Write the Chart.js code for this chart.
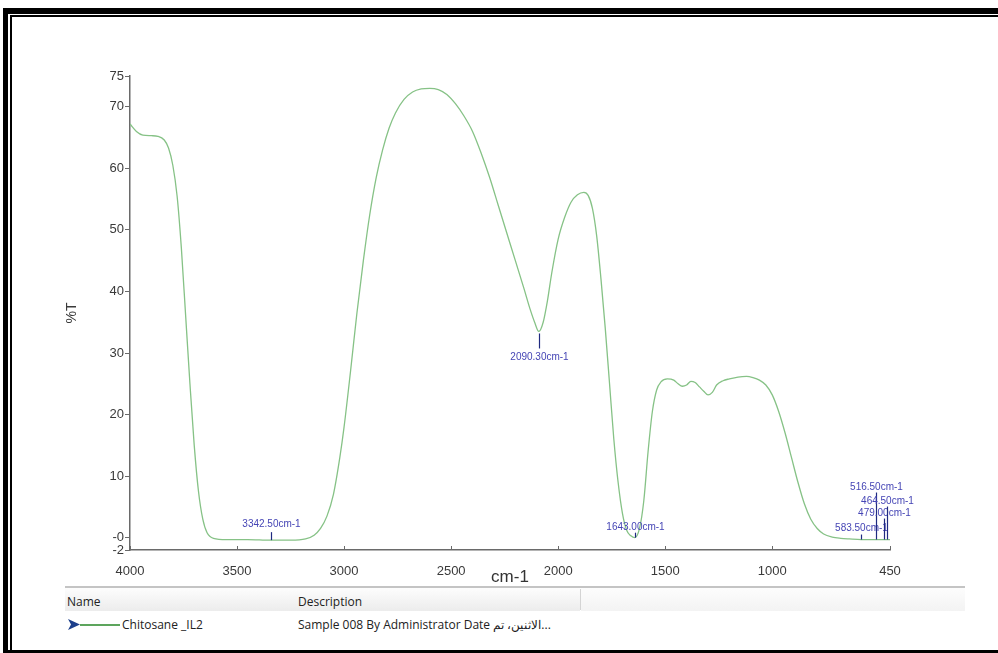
<!DOCTYPE html>
<html>
<head>
<meta charset="utf-8">
<script src="https://cdn.jsdelivr.net/npm/chart.js@4.4.0/dist/chart.umd.min.js"></script>
<style>
  html, body { margin: 0; padding: 0; background: #fff; }
  body { width: 998px; height: 653px; position: relative; overflow: hidden; font-family: Arial, "Liberation Sans", sans-serif; }
  #frameOuter { position: absolute; left: 3px; top: 8px; width: 1000px; height: 636px;
    border-top: 6px solid #000; border-left: 5px solid #000; border-bottom: 6px solid #000; }
  #frameInner { position: absolute; left: 10px; top: 15px; width: 1000px; height: 640px;
    border-top: 2px solid #000; border-left: 2px solid #000; }
  #chartBox { position: absolute; left: 0; top: 0; width: 998px; height: 600px; }
  .tbl { position: absolute; font-family: "Open Sans", "Noto Sans", sans-serif; font-size: 12px; color: #222; white-space: nowrap; }
  #topRule { position: absolute; left: 65px; top: 586px; width: 900px; height: 2px; background: #c4c4c4; }
  #hdrLeft { position: absolute; left: 65px; top: 588px; width: 515px; height: 23px; background: linear-gradient(#fdfdfd, #ececec); }
  #hdrRight { position: absolute; left: 581px; top: 588px; width: 384px; height: 23px; background: linear-gradient(#fdfdfd, #f3f3f3); }
  #hdrSep { position: absolute; left: 580px; top: 589px; width: 1px; height: 21px; background: #d4d4d4; }
  #legLine { position: absolute; left: 80px; top: 624px; width: 40px; height: 2px; background: #5da55d; }
</style>
</head>
<body>
<div id="frameOuter"></div>
<div id="frameInner"></div>
<div id="chartBox"><canvas id="irChart" width="998" height="600"></canvas></div>

<div id="topRule"></div>
<div id="hdrLeft"></div>
<div id="hdrRight"></div>
<div id="hdrSep"></div>
<div class="tbl" style="left:67px; top:593px;">Name</div>
<div class="tbl" style="left:298px; top:593px;">Description</div>
<svg style="position:absolute; left:68px; top:619px;" width="12" height="11" viewBox="0 0 12 11">
  <path d="M0 0 L12 5.5 L0 11 L3 5.5 Z" fill="#1c3f8c"/>
</svg>
<div id="legLine"></div>
<div class="tbl" style="left:122px; top:616px;">Chitosane _IL2</div>
<div class="tbl" style="left:298px; top:616px;">Sample 008 By Administrator Date الاثنين، تم...</div>

<script>
// FTIR spectrum - Chitosane _IL2

// wavenumber (cm-1) / %T
const wavenumbers = [
  4000, 3970, 3940, 3900, 3870, 3840, 3820, 3800, 3780, 3760, 3740, 3720, 3700, 3680, 3660, 3640, 3610,
  3550, 3450, 3342.5, 3250, 3180, 3140, 3110, 3080, 3050, 3020, 3000, 2970, 2940, 2910, 2880, 2850,
  2820, 2790, 2760, 2720, 2680, 2640, 2600, 2560, 2520, 2480, 2440, 2400, 2360, 2320, 2280, 2240,
  2200, 2160, 2130, 2110, 2090.3, 2070, 2050, 2030, 2000, 1970, 1940, 1910, 1880, 1860, 1840, 1820,
  1800, 1780, 1760, 1740, 1720, 1700, 1680, 1660, 1643, 1620, 1600, 1580, 1560, 1540, 1520, 1490,
  1460, 1440, 1420, 1400, 1380, 1360, 1340, 1320, 1300, 1280, 1260, 1230, 1200, 1160, 1120, 1090,
  1060, 1030, 1000, 970, 940, 910, 880, 850, 820, 790, 760, 720, 680, 640, 583.5, 516.5, 479, 464.5, 450
];
const transmittance = [
  67.2, 66.0, 65.4, 65.3, 65.2, 64.6, 63.3, 60.5, 55.5, 47, 36, 25, 15, 7.5, 3, 0.8, -0.1,
  -0.3, -0.3, -0.4, -0.4, -0.2, 0.4, 1.5, 3.5, 7, 13, 18, 27, 36.5, 45, 52.5, 58.5,
  63, 66.5, 69, 71.2, 72.4, 72.9, 73.0, 72.8, 72.0, 70.5, 68.5, 66, 62.5, 58.5, 54, 49.5,
  45, 40.5, 37, 35, 33.5, 35, 38.5, 43, 48.5, 52, 54.5, 55.7, 56.1, 55.6, 53.5, 49,
  42, 34, 25, 16, 9, 4, 1.2, 0.3, 0, 1.5, 6, 14, 20.5, 24, 25.3, 25.8,
  25.6, 25.0, 24.6, 24.8, 25.4, 25.2, 24.5, 23.8, 23.2, 23.6, 24.8, 25.5, 25.8, 26.1, 26.2, 26.0,
  25.6, 24.8, 23.2, 20.5, 17, 13, 9, 5.5, 3, 1.5, 0.6, 0.1, -0.1, -0.2, -0.3, -0.3, -0.3, -0.3, -0.3
];

const xTickValues = [4000, 3500, 3000, 2500, 2000, 1500, 1000, 450];
const yTickValues = [-2, 0, 10, 20, 30, 40, 50, 60, 70, 75];
const yTickLabels = ['-2', '-0', '10', '20', '30', '40', '50', '60', '70', '75'];

const peakWavenumbers = [3342.5, 2090.3, 1643.0, 583.5, 516.5, 479.0, 464.5];
const peakTransmittance = [-0.4, 33.5, 0, -0.3, -0.3, -0.3, -0.3];
const peakLabels = ['3342.50cm-1', '2090.30cm-1', '1643.00cm-1', '583.50cm-1', '516.50cm-1', '479.00cm-1', '464.50cm-1'];

// label placement relative to the marked point (pixels)
const peakLabelDy = [-16, 26, -10, -11, -52, -26, -38];
const peakLineFrom = [-8, 2, -5, -5, -47, -21, -33];
const peakLineTo = [0, 17, 0, 0, 0, 0, 0];

// peak picks + little inward x ticks
const peakPlugin = {
  id: 'peakPicks',
  afterDatasetsDraw(chart) {
    const { ctx, scales: { x, y }, chartArea } = chart;
    ctx.save();
    // x tick marks pointing up
    ctx.strokeStyle = '#6a6a6a';
    ctx.lineWidth = 1;
    xTickValues.forEach((v) => {
      const px = Math.round(x.getPixelForValue(v)) + 0.5;
      ctx.beginPath();
      ctx.moveTo(px, chartArea.bottom);
      ctx.lineTo(px, chartArea.bottom - 4);
      ctx.stroke();
    });

    ctx.font = '10px Arial, "Liberation Sans", sans-serif';
    ctx.textAlign = 'center';
    ctx.textBaseline = 'middle';
    peakWavenumbers.forEach((wn, i) => {
      const px = Math.round(x.getPixelForValue(wn)) + 0.5;
      const py = y.getPixelForValue(peakTransmittance[i]);
      ctx.strokeStyle = '#1f2a80';
      ctx.lineWidth = 1.2;
      ctx.beginPath();
      ctx.moveTo(px, py + peakLineFrom[i]);
      ctx.lineTo(px, py + peakLineTo[i]);
      ctx.stroke();
      ctx.fillStyle = '#4545b5';
      ctx.fillText(peakLabels[i], px, py + peakLabelDy[i]);
    });
    ctx.restore();
  }
};

const ctx = document.getElementById('irChart').getContext('2d');
const irChart = new Chart(ctx, {
  type: 'line',
  data: {
    datasets: [{
      label: 'Chitosane _IL2',
      data: wavenumbers.map((w, i) => ({ x: w, y: transmittance[i] })),
      borderColor: '#86c286',
      borderWidth: 1.3,
      pointRadius: 0,
      fill: false,
      cubicInterpolationMode: 'monotone'
    }]
  },
  options: {
    responsive: false,
    animation: false,
    layout: { padding: { left: 0, top: 76, right: 108, bottom: 0 } },
    plugins: { legend: { display: false }, tooltip: { enabled: false } },
    scales: {
      x: {
        type: 'linear',
        reverse: true,
        min: 450,
        max: 4000,
        afterBuildTicks: (scale) => { scale.ticks = xTickValues.map((v) => ({ value: v })); },
        afterFit: (scale) => { scale.height = 50; },
        grid: { display: false },
        border: { display: true, color: '#6a6a6a', width: 1.5 },
        ticks: {
          autoSkip: false,
          maxRotation: 0,
          padding: 6,
          color: '#3a3a3a',
          font: { family: 'Arial, "Liberation Sans", sans-serif', size: 13 },
          callback: (v) => String(v)
        },
        title: {
          display: true,
          text: 'cm-1',
          color: '#333',
          font: { family: 'Arial, "Liberation Sans", sans-serif', size: 17 },
          padding: { top: 0, bottom: 12 }
        }
      },
      y: {
        min: -2,
        max: 75,
        afterBuildTicks: (scale) => { scale.ticks = yTickValues.map((v) => ({ value: v })); },
        afterFit: (scale) => { scale.width = 130; },
        grid: { drawOnChartArea: false, drawTicks: true, tickLength: 5, color: '#6a6a6a' },
        border: { display: true, color: '#6a6a6a', width: 1.5 },
        ticks: {
          autoSkip: false,
          padding: 1,
          color: '#3a3a3a',
          font: { family: 'Arial, "Liberation Sans", sans-serif', size: 13 },
          callback: (v) => yTickLabels[yTickValues.indexOf(v)]
        },
        title: {
          display: true,
          text: '%T',
          color: '#3a3a3a',
          font: { family: 'Arial, "Liberation Sans", sans-serif', size: 14 },
          padding: { top: 64, bottom: 0 }
        }
      }
    }
  },
  plugins: [peakPlugin]
});
</script>
</body>
</html>
